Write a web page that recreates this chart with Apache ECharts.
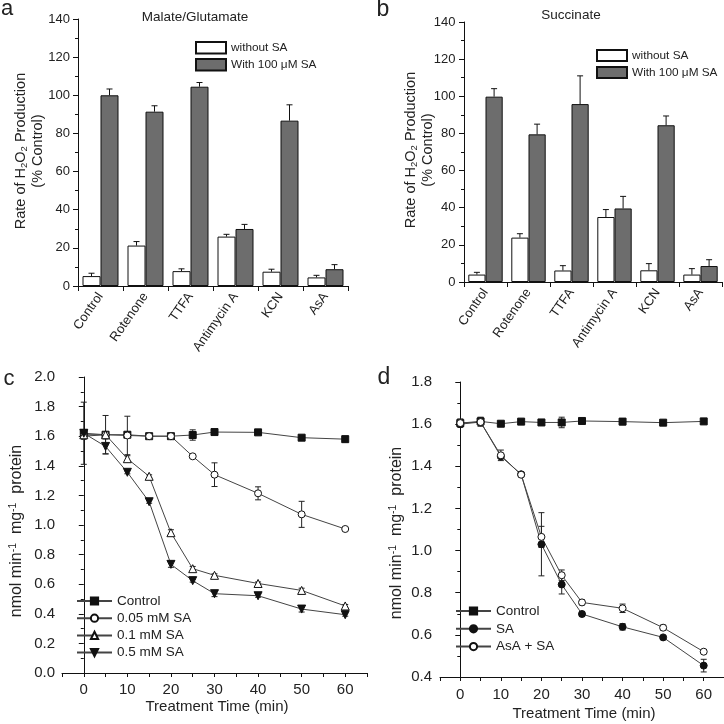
<!DOCTYPE html>
<html><head><meta charset="utf-8">
<script src="https://cdn.jsdelivr.net/npm/echarts@6/dist/echarts.min.js"></script>
<style>html,body{margin:0;padding:0;background:#fff}#c{width:724px;height:724px}</style>
</head><body><div id="c"></div>
<script>
// ---------- DATA ----------
const barCats = ['Control', 'Rotenone', 'TTFA', 'Antimycin A', 'KCN', 'AsA'];
const mgWithout = [5.2, 21.2, 7.8, 25.9, 7.5, 4.5];
const mgWithoutErr = [1.5, 2.1, 1.2, 1.2, 1.3, 1.1];
const mgWith = [100, 91.4, 104.5, 29.9, 86.7, 8.8];
const mgWithErr = [3.3, 3.1, 2.2, 2.4, 8.3, 2.4];
const sucWithout = [4.0, 23.9, 6.2, 35.0, 6.3, 4.0];
const sucWithoutErr = [1.2, 2.1, 2.6, 4.0, 3.6, 3.2];
const sucWith = [99.8, 79.5, 95.8, 39.6, 84.4, 8.6];
const sucWithErr = [4.3, 5.5, 15.2, 6.5, 5.0, 3.4];

const timePts = [0, 5, 10, 15, 20, 25, 30, 40, 50, 60];
const cControl = [1.62, 1.61, 1.61, 1.60, 1.60, 1.608, 1.628, 1.626, 1.59, 1.58];
const cControlErr = [0.21, 0.01, 0.01, 0.01, 0.01, 0.035, 0.01, 0.01, 0.01, 0.02];
const c005 = [1.60, 1.61, 1.605, 1.60, 1.60, 1.464, 1.34, 1.214, 1.072, 0.973];
const c005Err = [0.02, 0.01, 0.13, 0.01, 0.01, 0.01, 0.08, 0.044, 0.088, 0.01];
const c01 = [1.61, 1.61, 1.448, 1.329, 0.948, 0.705, 0.66, 0.605, 0.558, 0.453];
const c01Err = [0.01, 0.13, 0.02, 0.01, 0.02, 0.015, 0.01, 0.01, 0.015, 0.01];
const c05 = [1.62, 1.531, 1.356, 1.157, 0.734, 0.624, 0.536, 0.522, 0.432, 0.394];
const c05Err = [0.01, 0.05, 0.01, 0.01, 0.02, 0.01, 0.02, 0.01, 0.02, 0.01];

const dControl = [1.605, 1.613, 1.602, 1.612, 1.608, 1.608, 1.615, 1.612, 1.607, 1.613];
const dControlErr = [0.01, 0.02, 0.01, 0.01, 0.01, 0.025, 0.01, 0.015, 0.01, 0.01];
const dSA = [1.60, 1.61, 1.447, 1.362, 1.03, 0.839, 0.699, 0.638, 0.588, 0.454];
const dSAErr = [0.01, 0.01, 0.01, 0.01, 0.15, 0.045, 0.012, 0.015, 0.008, 0.03];
const dAsASA = [1.605, 1.61, 1.452, 1.36, 1.065, 0.883, 0.754, 0.726, 0.634, 0.52];
const dAsASAErr = [0.02, 0.02, 0.025, 0.01, 0.05, 0.025, 0.012, 0.02, 0.012, 0.008];

const xLabelValues = [0, 10, 20, 30, 40, 50, 60];

// ---------- STYLE ----------
const FONT = 'Liberation Sans, Arial, sans-serif';
const TXT = '#222';
const GREY = '#6d6d6d';
const LINEC = '#444';

function barSeries(name, vals, gi, color) {
  return { type: 'bar', name: name, xAxisIndex: gi, yAxisIndex: gi, data: vals,
    barGap: '0%', barCategoryGap: '20%',
    itemStyle: { color: color, borderColor: '#111', borderWidth: 1 }, z: 2 };
}
function barErr(vals, errs, gi, off) {
  return { type: 'custom', name: 'err', xAxisIndex: gi, yAxisIndex: gi, z: 3, silent: true,
    encode: { x: 0, y: 1 },
    data: vals.map((v, i) => [i, v, errs[i]]),
    renderItem: function (params, api) {
      const i = api.value(0), v = api.value(1), e = api.value(2);
      const b = api.coord([i, v]); const t = api.coord([i, v + e]);
      const band = api.size([1, 0])[0];
      const x = b[0] + off * band;
      const st = { stroke: '#111', lineWidth: 1 };
      return { type: 'group', children: [
        { type: 'line', shape: { x1: x, y1: b[1], x2: x, y2: t[1] }, style: st },
        { type: 'line', shape: { x1: x - 3, y1: t[1], x2: x + 3, y2: t[1] }, style: st } ] };
    } };
}
function lineSeries(name, vals, gi, symbol, size, filled) {
  return { type: 'line', name: name, xAxisIndex: gi, yAxisIndex: gi,
    data: timePts.map((t, i) => [t, vals[i]]),
    symbol: symbol, symbolSize: size, showAllSymbol: true,
    lineStyle: { color: LINEC, width: 1 },
    itemStyle: { color: filled ? '#111' : '#fff', borderColor: '#111', borderWidth: 1, opacity: 1 },
    z: 4 };
}
function lineErr(vals, errs, gi) {
  return { type: 'custom', name: 'err', xAxisIndex: gi, yAxisIndex: gi, z: 3, silent: true,
    encode: { x: 0, y: 1 },
    data: timePts.map((t, i) => [t, vals[i], errs[i]]),
    renderItem: function (params, api) {
      const x = api.value(0), v = api.value(1), e = api.value(2);
      const t = api.coord([x, v + e]); const b = api.coord([x, v - e]);
      const st = { stroke: '#222', lineWidth: 1 };
      return { type: 'group', children: [
        { type: 'line', shape: { x1: t[0], y1: t[1], x2: b[0], y2: b[1] }, style: st },
        { type: 'line', shape: { x1: t[0] - 3, y1: t[1], x2: t[0] + 3, y2: t[1] }, style: st },
        { type: 'line', shape: { x1: b[0] - 3, y1: b[1], x2: b[0] + 3, y2: b[1] }, style: st } ] };
    } };
}
const axLine = { show: true, lineStyle: { color: '#111', width: 1 } };
function yAx(gi, min, max, interval, fs, margin) {
  return { type: 'value', gridIndex: gi, min: min, max: max, interval: interval,
    axisLine: axLine, axisTick: { show: true, length: 5, lineStyle: { color: '#111' } },
    minorTick: { show: true, splitNumber: 2, length: 3, lineStyle: { color: '#111' } },
    splitLine: { show: false },
    axisLabel: { fontFamily: FONT, fontSize: fs, color: TXT, margin: margin,
      formatter: v => (interval < 1 ? v.toFixed(1) : String(v)) } };
}
function catAx(gi) {
  return { type: 'category', gridIndex: gi, data: barCats,
    axisLine: axLine, axisTick: { show: true, length: 5, lineStyle: { color: '#111' } },
    axisLabel: { fontFamily: FONT, fontSize: 13, color: TXT, rotate: 55, margin: 8, interval: 0 } };
}
function timeAx(gi, margin) {
  return { type: 'value', gridIndex: gi, min: -5, max: 65, interval: 5,
    axisLine: axLine, axisTick: { show: true, length: 4, lineStyle: { color: '#111' } },
    splitLine: { show: false },
    axisLabel: { fontFamily: FONT, fontSize: 15, color: TXT, margin: margin,
      customValues: xLabelValues } };
}
const SUB = { fontSize: 9.5, fontFamily: FONT, color: TXT, verticalAlign: 'bottom', lineHeight: 9 };
const SUP = { fontSize: 10.5, fontFamily: FONT, color: TXT, verticalAlign: 'top', lineHeight: 10 };
function mainRich(fs, lh) { return { fontSize: fs, fontFamily: FONT, color: TXT, lineHeight: lh }; }
function txt(x, y, text, fs, extra) {
  return Object.assign({ type: 'text', x: x, y: y, style: { text: text, font: fs + 'px ' + FONT,
    fill: TXT, align: 'center', verticalAlign: 'middle' } }, extra || {});
}
function yTitleBar(x, y) {
  return { type: 'text', x: x, y: y, rotation: Math.PI / 2,
    style: { text: '{m|Rate of H}{s|2}{m|O}{s|2}{m| Production}\n{m|(% Control)}',
      align: 'center', verticalAlign: 'middle', fill: TXT,
      rich: { m: mainRich(14.5, 17), s: SUB } } };
}
function yTitleLine(x, y) {
  return { type: 'text', x: x, y: y, rotation: Math.PI / 2,
    style: { text: '{m|nmol min}{p|-1}{m|  mg}{p|-1}{m|  protein}',
      align: 'center', verticalAlign: 'middle', fill: TXT,
      rich: { m: mainRich(16, 18), p: SUP } } };
}

const option = {
  animation: false,
  backgroundColor: '#fff',
  grid: [
    { left: 78, top: 19, width: 270, height: 267 },
    { left: 464, top: 22, width: 258, height: 260 },
    { left: 62, top: 377, width: 305, height: 296 },
    { left: 440, top: 382, width: 285, height: 295 }
  ],
  xAxis: [catAx(0), catAx(1), timeAx(2, 9), timeAx(3, 10)],
  yAxis: [yAx(0, 0, 140, 20, 13, 8), yAx(1, 0, 140, 20, 13, 8.5),
          yAx(2, 0, 2.0, 0.2, 15, 7), yAx(3, 0.4, 1.8, 0.2, 15, 8)],
  legend: [
    { left: 195, top: 41, padding: 0, orient: 'vertical', itemWidth: 30, itemHeight: 11.5, itemGap: 3.5,
      icon: 'rect', data: ['without SA', 'With 100 μM SA'],
      textStyle: { fontFamily: FONT, fontSize: 11.8, color: TXT, lineHeight: 12 } },
    { left: 596, top: 49, padding: 0, orient: 'vertical', itemWidth: 30, itemHeight: 11, itemGap: 4,
      icon: 'rect', data: ['without SA', 'With 100 μM SA'],
      textStyle: { fontFamily: FONT, fontSize: 11.8, color: TXT, lineHeight: 12 } },
    { left: 76, top: 594, padding: 0, orient: 'vertical', itemWidth: 35, itemHeight: 9, itemGap: 3.2,
      data: ['Control', '0.05 mM SA', '0.1 mM SA', '0.5 mM SA'],
      textStyle: { fontFamily: FONT, fontSize: 13.5, color: TXT, lineHeight: 14 } },
    { left: 455, top: 604, padding: 0, orient: 'vertical', itemWidth: 35, itemHeight: 9, itemGap: 3.8,
      data: ['Control ', 'SA', 'AsA + SA'],
      textStyle: { fontFamily: FONT, fontSize: 13.5, color: TXT, lineHeight: 14 } }
  ],
  series: [
    barSeries('without SA', mgWithout, 0, '#fff'),
    barSeries('With 100 μM SA', mgWith, 0, GREY),
    barErr(mgWithout, mgWithoutErr, 0, -0.2),
    barErr(mgWith, mgWithErr, 0, 0.2),
    barSeries('without SA', sucWithout, 1, '#fff'),
    barSeries('With 100 μM SA', sucWith, 1, GREY),
    barErr(sucWithout, sucWithoutErr, 1, -0.2),
    barErr(sucWith, sucWithErr, 1, 0.2),

    lineErr(cControl, cControlErr, 2),
    lineErr(c005, c005Err, 2),
    lineErr(c01, c01Err, 2),
    lineErr(c05, c05Err, 2),
    lineSeries('Control', cControl, 2, 'rect', 7, true),
    lineSeries('0.05 mM SA', c005, 2, 'circle', 7, false),
    lineSeries('0.1 mM SA', c01, 2, 'triangle', 8, false),
    lineSeries('0.5 mM SA', c05, 2, 'path://M0,0L10,0L5,9Z', 8, true),

    lineErr(dControl, dControlErr, 3),
    lineErr(dSA, dSAErr, 3),
    lineErr(dAsASA, dAsASAErr, 3),
    lineSeries('Control ', dControl, 3, 'rect', 7, true),
    lineSeries('SA', dSA, 3, 'circle', 7, true),
    lineSeries('AsA + SA', dAsASA, 3, 'circle', 7, false)
  ],
  graphic: [
    txt(7, 9, 'a', 22), txt(383, 10, 'b', 23), txt(9, 379, 'c', 22), txt(384, 378, 'd', 23),
    txt(195, 17, 'Malate/Glutamate', 13.5), txt(571, 15, 'Succinate', 13.5),
    yTitleBar(29, 151), yTitleBar(419.5, 150),
    yTitleLine(17, 531), yTitleLine(397, 533),
    txt(217, 707, 'Treatment Time (min)', 15), txt(584, 714, 'Treatment Time (min)', 15)
  ]
};
const chart = echarts.init(document.getElementById('c'), null, { renderer: 'canvas' });
chart.setOption(option);
</script></body></html>
